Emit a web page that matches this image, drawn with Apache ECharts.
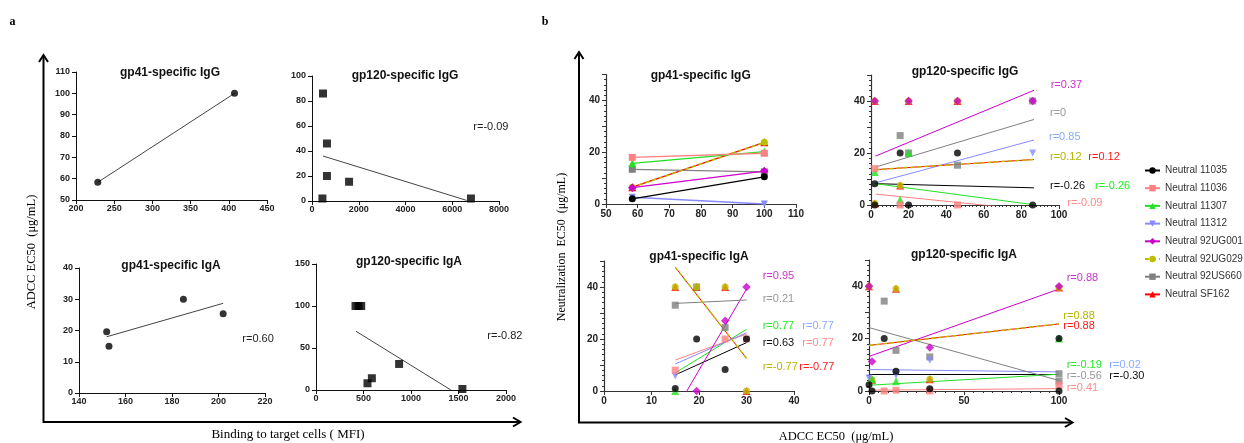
<!DOCTYPE html>
<html><head><meta charset="utf-8">
<script src="https://cdn.jsdelivr.net/npm/echarts@6/dist/echarts.min.js"></script>
<style>html,body{margin:0;padding:0;background:#fff}#c{width:1244px;height:443px}</style>
</head><body><div id="c"></div>
<script>
// ---------------- DATA ----------------
const viruses = ['Neutral 11035','Neutral 11036','Neutral 11307','Neutral 11312','Neutral 92UG001','Neutral 92UG029','Neutral 92US660','Neutral SF162'];
const virusColors = ['#000000','#ff8080','#22e022','#8888ff','#cc00cc','#bdbd00','#808080','#ff0000'];
const virusLabelColors = ['#111111','#ff8a8a','#22ee22','#88aaff','#cc33cc','#b5b500','#999999','#ff1a1a'];
const virusSymbols = ['circle','rect','triangle','path://M0,0L10,0L5,9Z','diamond','circle','rect','triangle'];

// Panel a: [binding to target cells (MFI), ADCC EC50]
const a1Points = [[228.5,58.3],[407.5,100]];
const a1Fit = [[228.5,58.3],[407.5,100]];
const a2Points = [[470,86],[640,46],[640,20],[445,2],[1585,15.4],[6800,2]];
const a2Fit = [[470,36],[6615,0.5]];
const a3Points = [[151.9,19.6],[152.9,15],[184.9,30],[202,25.4]];
const a3Fit = [[151.9,18],[202,28.7]];
const a4Points = [[416,100],[448,100],[476,100],[542,8],[588,14],[875,31],[1541,1.2]];
const a4Fit = [[420,70],[1420,0]];

// Panel b: [ADCC EC50, Neutralization EC50], one list per virus (order as viruses)
const b1X = [58.3, 100];
const b1Values = [[2.0,10.5],[18,19.6],[15.7,20.2],[2.6,0],[6.3,12.7],[6.5,23.8],[13.4,12.4],[6.5,23.8]];

const b2Points = [
  [[2,8.2],[2,0],[15.5,20],[46,20],[86,0],[20,0]],
  [[2,14],[15.5,0],[46,0]],
  [[2,12.7],[15.5,2],[20,20]],
  [[86,20]],
  [[2,40],[20,40],[46,40],[86,40]],
  [[2,40],[2,0.6],[15.5,7.5],[20,40],[46,40]],
  [[15.5,26.7],[20,20],[46,15.3],[86,40]],
  [[2,40],[2,0.6],[15.5,7.5],[20,40],[46,40]]
];
const b2FitX = [2.4, 86.7];
const b2Fit = [[8.2,6.6],[4.2,-2.0],[8.2,0.1],[8.5,25],[18.8,44.1],[13.6,17.5],[14.6,32.9],[13.6,17.5]];

const b3Points = [
  [[15,1],[19.5,20],[25.5,8.3],[30,20]],
  [[15,8],[25.5,20],[30,20]],
  [[15,0]],
  [[15,5.8]],
  [[19.5,0],[25.5,27],[30,40]],
  [[15,40],[19.5,40],[25.5,40],[30,0]],
  [[15,33],[19.5,40],[25.5,24.4]],
  [[15,40],[19.5,40],[25.5,40],[30,0]]
];
const b3FitX = [15, 30];
const b3Fit = [[6.2,18.6],[11.9,21.9],[7,23.7],[10.4,22.4],[-7.6,39.2],[47.6,12.6],[33.7,35],[47.6,12.6]];

const b4Points = [
  [[0,2.4],[1.6,0],[8,20],[14.2,7.5],[32,0.9],[100,20],[100,0]],
  [[8,0],[14.2,0.3],[32,0],[100,2.2]],
  [[1.6,4.5],[14.2,3.7],[100,20]],
  [[0,5],[14.2,6],[32,11.7]],
  [[0,40],[1.6,11.3],[32,16.6],[100,40]],
  [[0,40],[1.6,4.3],[14.2,39],[32,4.5],[100,39.5]],
  [[8,34.3],[14.2,15.5],[32,13],[100,6.6],[100,3.8]],
  [[0,40],[1.6,4.3],[14.2,39],[32,4.5],[100,39.5]]
];
const b4FitX = [0, 100];
const b4Fit = [[6.3,6.3],[0.3,0.9],[2.2,6.4],[8.2,7.3],[13.2,38.9],[17.4,25.6],[24.2,4],[17.4,25.6]];

const b2R = ['r=-0.26','r=-0.09','r=-0.26','r=0.85','r=0.37','r=0.12','r=0','r=0.12'];
const b3R = ['r=0.63','r=0.77','r=0.77','r=0.77','r=0.95','r=-0.77','r=0.21','r=-0.77'];
const b4R = ['r=-0.30','r=0.41','r=-0.19','r=0.02','r=0.88','r=0.88','r=-0.56','r=0.88'];
const aR = ['r=-0.09','r=0.60','r=-0.82'];
const titles = ['gp41-specific IgG','gp120-specific IgG','gp41-specific IgA','gp120-specific IgA'];

// ---------------- LAYOUT ----------------
const SANS = 'Liberation Sans, Arial, sans-serif';
const SERIF = 'Liberation Serif, Times New Roman, serif';
const grids = [
  {left:76, top:72, width:191, height:128},
  {left:312, top:76, width:187, height:125},
  {left:79, top:268, width:186, height:125},
  {left:316, top:264, width:190, height:126},
  {left:606, top:74.5, width:190, height:129.5},
  {left:871, top:75, width:188, height:130},
  {left:604, top:261, width:190, height:130},
  {left:869, top:260, width:190, height:131}
];

function axA(min,max,interval,isX){
  return {type:'value', min, max, interval,
    axisLine:{show:true,onZero:false,lineStyle:{color:'#111',width:1}},
    axisTick:{show:true,length:4,lineStyle:{color:'#111'}},
    splitLine:{show:false},
    axisLabel:{fontFamily:SANS,fontWeight:'bold',fontSize:9,color:'#222',margin:isX?4:6, formatter: v => String(v)}};
}
function axB(min,max,interval,isX,minorSplit,labelEvery){
  const o = {type:'value', min, max, interval,
    axisLine:{show:true,onZero:false,lineStyle:{color:'#333',width:1.2}},
    axisTick:{show:true,length:4,lineStyle:{color:'#333'}},
    splitLine:{show:false},
    axisLabel:{fontFamily:SANS,fontWeight:'bold',fontSize:10,color:'#222',margin:isX?5:6, formatter: v => String(v)}};
  if (minorSplit) o.minorTick = {show:true, splitNumber:minorSplit, length:2, lineStyle:{color:'#333'}};
  if (labelEvery) o.axisLabel.formatter = v => (v % labelEvery === 0 ? String(v) : '');
  return o;
}
const xAxes = [axA(200,450,50,true), axA(0,8000,2000,true), axA(140,220,20,true), axA(0,2000,500,true),
  axB(50,110,10,true), axB(0,100,20,true,10), axB(0,40,10,true), axB(0,100,50,true,10)];
const yAxes = [axA(50,110,10,false), axA(0,100,20,false), axA(0,40,10,false), axA(0,150,50,false),
  axB(0,50,10,false,5,20), axB(0,50,10,false,5,20), axB(0,50,10,false,5,20), axB(0,50,10,false,5,20)];
xAxes.forEach((a,i)=>a.gridIndex=i);
yAxes.forEach((a,i)=>a.gridIndex=i);

function symSize(i){ const s = virusSymbols[i]; return s==='triangle'?8:(s==='diamond'?8.5:7); }

// ---------------- SERIES ----------------
const series = [];
// panel b1 first so legend icons come from line+symbol series
viruses.forEach((v,i)=>{
  const dashed = (i===5);
  series.push({type:'line', name:v, xAxisIndex:4, yAxisIndex:4,
    data: b1X.map((x,j)=>[x, b1Values[i][j]]),
    symbol: virusSymbols[i], symbolSize: symSize(i), showSymbol:true,
    itemStyle:{color:virusColors[i]},
    lineStyle:{color:virusColors[i], width: dashed?1.6:1.3, type: dashed?[4,3]:'solid'},
    z: 20 - i, animation:false});
});
function aPanel(idx, pts, fit, sym){
  series.push({type:'line', name:'fit'+idx, xAxisIndex:idx, yAxisIndex:idx, data:fit, symbol:'none',
    lineStyle:{color:'#444', width:1}, z:2, animation:false});
  series.push({type:'scatter', name:'pts'+idx, xAxisIndex:idx, yAxisIndex:idx, data:pts,
    symbol:sym, symbolSize: sym==='rect'?8:7, itemStyle:{color:'#000'}, z:3, animation:false});
}
aPanel(0, a1Points, a1Fit, 'circle');
aPanel(1, a2Points, a2Fit, 'rect');
aPanel(2, a3Points, a3Fit, 'circle');
aPanel(3, a4Points, a4Fit, 'rect');

function bPanel(idx, pts, fitX, fit){
  viruses.forEach((v,i)=>{
    const dashed = (i===5);
    series.push({type:'line', name:v, xAxisIndex:idx, yAxisIndex:idx,
      data: fitX.map((x,j)=>[x, fit[i][j]]), symbol:'none', clip:true,
      lineStyle:{color:virusColors[i], width: dashed?1.5:1, type: dashed?[4,3]:'solid'},
      z: dashed?3:2, animation:false});
    series.push({type:'scatter', name:v, xAxisIndex:idx, yAxisIndex:idx, data: pts[i],
      symbol: virusSymbols[i], symbolSize: symSize(i),
      itemStyle:{color:virusColors[i]}, z: 20 - i, animation:false});
  });
}
bPanel(5, b2Points, b2FitX, b2Fit);
bPanel(6, b3Points, b3FitX, b3Fit);
bPanel(7, b4Points, b4FitX, b4Fit);

// ---------------- GRAPHICS (text & frame arrows) ----------------
const g = [];
function text(x,y,t,font,fill,align,valign,rot){
  g.push({type:'text', x, y, rotation: rot||0, silent:true,
    style:{text:t, font, fill, textAlign:align||'left', textVerticalAlign:valign||'middle'}});
}
function poly(points,w){ g.push({type:'polyline', silent:true, shape:{points}, style:{stroke:'#000', lineWidth:w, fill:null}}); }
// frames with arrows
poly([[43.5,57],[43.5,422],[519,422]],2);
poly([[39,62],[43.5,55],[48,62]],2);
poly([[513,417.5],[520.5,422],[513,426.5]],2);
poly([[579,54],[579,422.5],[1071,422.5]],2);
poly([[574.5,59],[579,52],[583.5,59]],2);
poly([[1065,418],[1072.5,422.5],[1065,427]],2);
// panel letters
text(12.5,21.5,'a','bold 12px '+SERIF,'#000','center','middle');
text(545,22,'b','bold 12px '+SERIF,'#000','center','middle');
// axis names
text(31.5,252,'ADCC EC50  (\u03bcg/mL)','12.5px '+SERIF,'#000','center','middle',Math.PI/2);
text(288,435,'Binding to target cells ( MFI)','13px '+SERIF,'#000','center','middle');
text(562,247,'Neutralization  EC50  (\u03bcg/mL)','12px '+SERIF,'#000','center','middle',Math.PI/2);
text(836,436.5,'ADCC EC50  (\u03bcg/mL)','12.5px '+SERIF,'#000','center','middle');
// subplot titles
const titlePos = [[170,72.5],[405,75.7],[171,265.7],[409,262],[700.7,76],[965,71.7],[699,257],[964,255]];
titlePos.forEach((p,i)=>text(p[0],p[1],titles[i%4],'bold 12px '+SANS,'#111','center','middle'));
// r labels panel a
const aRPos = [[473.3,126.7],[242.3,339.3],[487.3,336]];
aR.forEach((t,i)=>text(aRPos[i][0],aRPos[i][1],t,'11px '+SANS,'#222','left','middle'));
// r labels panel b
const b2RPos = [[1050,186],[1067.3,203.3],[1095,186],[1049,137.3],[1050.7,85],[1050,157.3],[1050,112.7],[1088.3,157.3]];
const b3RPos = [[762.7,343.3],[802.3,343.3],[762.7,325.7],[802.3,325.7],[762.7,276],[762.7,366.7],[762.7,299.3],[799.3,366.7]];
const b4RPos = [[1109.3,376],[1066.7,388.3],[1066.7,365],[1109.3,365],[1066.7,278.3],[1063.3,316],[1066.7,376],[1063.3,325.7]];
[[b2R,b2RPos],[b3R,b3RPos],[b4R,b4RPos]].forEach(([labels,pos])=>{
  labels.forEach((t,i)=>text(pos[i][0],pos[i][1],t,'11px '+SANS,virusLabelColors[i],'left','middle'));
});

const chart = echarts.init(document.getElementById('c'), null, {renderer:'canvas'});
chart.setOption({
  animation:false,
  backgroundColor:'#fff',
  grid: grids,
  xAxis: xAxes,
  yAxis: yAxes,
  legend: {data: viruses, orient:'vertical', left:1144, top:164.5, padding:0, itemWidth:15, itemHeight:8, itemGap:5.7,
    textStyle:{fontFamily:SANS, fontSize:10, color:'#333', lineHeight:12}},
  series: series,
  graphic: g
});
</script>
</body></html>
